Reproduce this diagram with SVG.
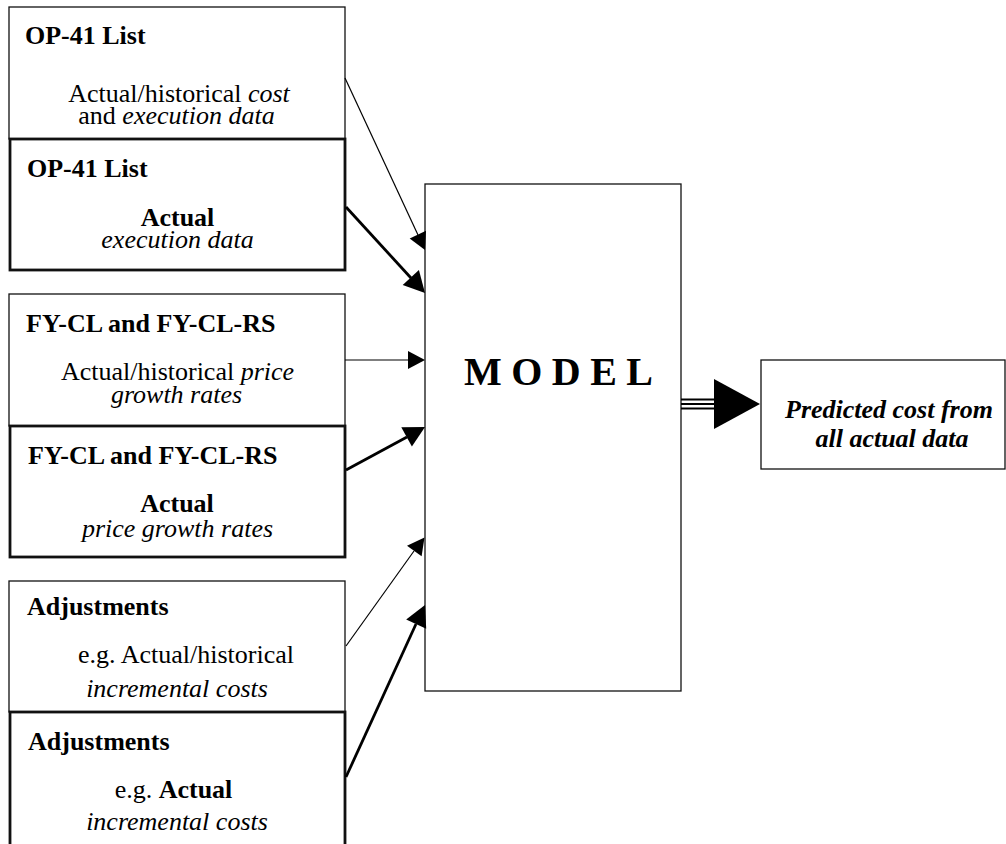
<svg xmlns="http://www.w3.org/2000/svg" width="1006" height="844" viewBox="0 0 1006 844">
<style>
text{font-family:"Liberation Serif","Times New Roman",serif;font-size:26px;fill:#000}
.t{font-weight:bold}
.c{text-anchor:middle}
.i{font-style:italic}
.b{font-weight:bold}
.thin{fill:#fff;stroke:#111;stroke-width:1.3}
.thick{fill:#fff;stroke:#111;stroke-width:2.8}
.ln{stroke:#000;stroke-width:1.2;fill:none}
.lk{stroke:#000;stroke-width:2.8;fill:none}
.hd{fill:#000;stroke:none}
</style>
<rect width="1006" height="844" fill="#fff"/>
<g id="op41-hist">
<rect class="thin" x="9" y="7" width="336" height="132"/>
<text class="t" x="25" y="43.5">OP-41 List</text>
<text class="c" x="179" y="101.5">Actual/historical <tspan class="i">cost</tspan></text>
<text class="c" x="176.5" y="124">and <tspan class="i">execution data</tspan></text>
</g>
<g id="op41-act">
<rect class="thick" x="10" y="139" width="335" height="131"/>
<text class="t" x="27" y="176.5">OP-41 List</text>
<text class="c b" x="177.5" y="226">Actual</text>
<text class="c i" x="177.5" y="248">execution data</text>
</g>
<g id="fy-hist">
<rect class="thin" x="9" y="294" width="336" height="132"/>
<text class="t" x="26" y="331.5">FY-CL and FY-CL-RS</text>
<text class="c" x="177.5" y="380">Actual/historical <tspan class="i">price</tspan></text>
<text class="c i" x="176.5" y="403">growth rates</text>
</g>
<g id="fy-act">
<rect class="thick" x="10" y="426" width="335" height="131"/>
<text class="t" x="28" y="464">FY-CL and FY-CL-RS</text>
<text class="c b" x="177" y="511.5">Actual</text>
<text class="c i" x="177.5" y="536.5">price growth rates</text>
</g>
<g id="adj-hist">
<rect class="thin" x="9" y="581" width="336" height="131"/>
<text class="t" x="27" y="615">Adjustments</text>
<text class="c" x="186" y="663">e.g. Actual/historical</text>
<text class="c i" x="177" y="697">incremental costs</text>
</g>
<g id="adj-act">
<rect class="thick" x="10" y="712" width="335" height="140"/>
<text class="t" x="28" y="750">Adjustments</text>
<text class="c" x="173.5" y="798">e.g. <tspan class="b">Actual</tspan></text>
<text class="c i" x="177" y="830">incremental costs</text>
</g>
<g id="model">
<rect class="thin" x="425" y="184" width="256" height="507"/>
<text class="b" x="464" y="385" style="font-size:40px" textLength="189" lengthAdjust="spacing">MODEL</text>
</g>
<g id="output">
<rect class="thin" x="761" y="360" width="244" height="109"/>
<text class="c b i" x="889" y="418">Predicted cost from</text>
<text class="c b i" x="892" y="447">all actual data</text>
</g>
<g id="connectors">
<line class="ln" x1="345" y1="78" x2="418" y2="235"/>
<polygon class="hd" points="425,250 426,230.8 409.7,238.4"/>
<line class="lk" x1="346" y1="207" x2="411" y2="278"/>
<polygon class="hd" points="425,293 418.9,270.1 402.7,285"/>
<line class="ln" x1="345" y1="360" x2="409" y2="360"/>
<polygon class="hd" points="425,360 408,351 408,369"/>
<line class="lk" x1="346" y1="470" x2="407" y2="437"/>
<polygon class="hd" points="425,427 411.9,446.6 401.3,427.2"/>
<line class="ln" x1="346" y1="646" x2="414" y2="551"/>
<polygon class="hd" points="424.5,537.5 421.6,556.3 407,545.7"/>
<line class="lk" x1="346" y1="777" x2="416" y2="624"/>
<polygon class="hd" points="425,605 426.2,628.7 406.2,619.5"/>
<line class="lk" x1="681" y1="399.5" x2="716" y2="399.5" style="stroke-width:1.8"/>
<line class="lk" x1="681" y1="404" x2="716" y2="404" style="stroke-width:1.8"/>
<line class="lk" x1="681" y1="408.5" x2="716" y2="408.5" style="stroke-width:1.8"/>
<polygon class="hd" points="714,379 760,404 714,429"/>
</g>
</svg>
